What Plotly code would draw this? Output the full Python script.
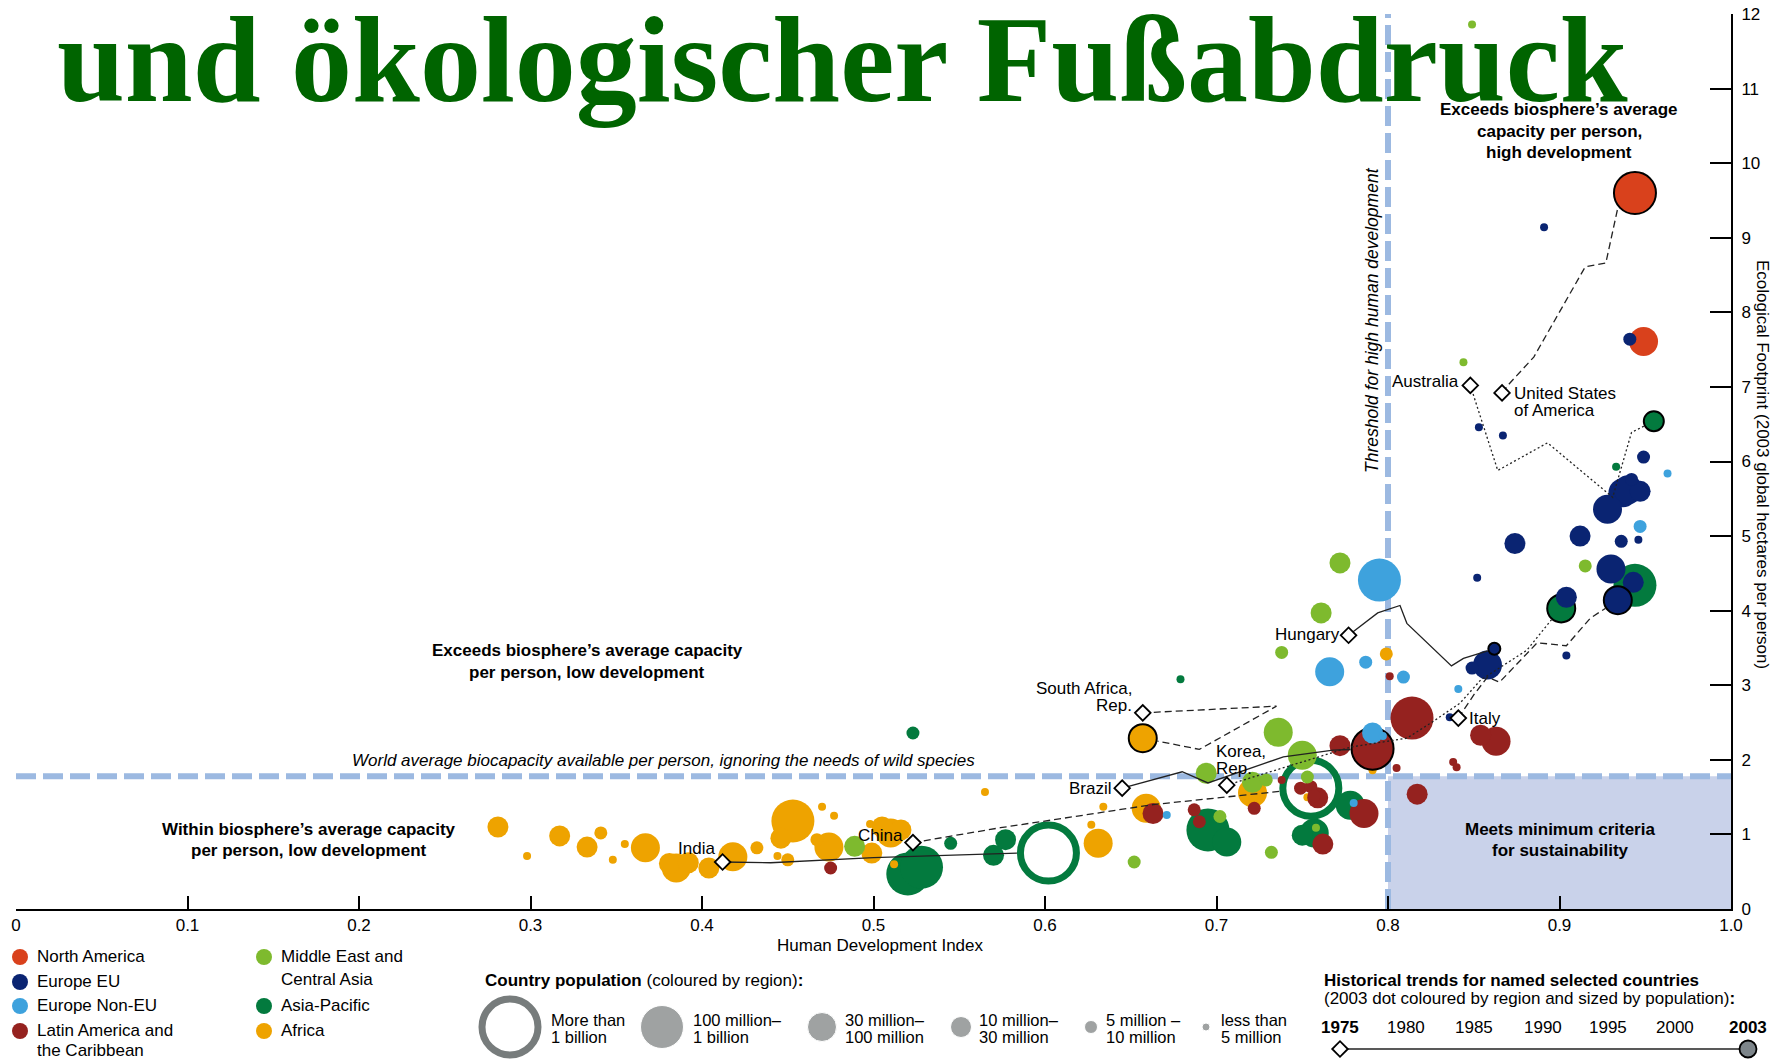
import math
import plotly.graph_objects as go

# ---------------- 2003 country data: HDI, ecological footprint (gha/person), population (millions) ----------------
NA_HDI = [0.949]
NA_EF = [7.61]
NA_POP = [31.5]

EU_HDI = [0.853, 0.867, 0.891, 0.941, 0.949, 0.937, 0.940, 0.947, 0.942, 0.928, 0.912,
          0.936, 0.946, 0.874, 0.930, 0.943, 0.852, 0.904, 0.904, 0.858, 0.849, 0.836]
EU_EF = [6.46, 6.35, 9.14, 7.64, 6.06, 5.58, 5.62, 5.60, 5.76, 5.36, 5.00,
         4.93, 4.95, 4.90, 4.56, 4.38, 4.44, 4.18, 3.40, 3.27, 3.23, 2.57]
EU_POP = [1.4, 0.8, 2.0, 5.2, 9.0, 60.0, 59.0, 10.3, 5.4, 41.0, 11.0,
          8.1, 4.0, 10.2, 82.0, 16.0, 3.4, 10.4, 2.0, 38.0, 5.4, 2.3]

NONEU_HDI = [0.671, 0.780, 0.791, 0.797, 0.795, 0.766, 0.787, 0.809, 0.841, 0.963, 0.947]
NONEU_EF = [1.26, 1.42, 2.36, 2.32, 4.41, 3.18, 3.31, 3.11, 2.95, 5.84, 5.13]
NONEU_POP = [4.3, 3.9, 21.7, 2.0, 143.0, 48.0, 9.9, 7.9, 4.4, 4.5, 7.2]

LATAM_HDI = [0.475, 0.663, 0.687, 0.690, 0.722, 0.738, 0.749, 0.755, 0.759, 0.757, 0.762,
             0.786, 0.772, 0.805, 0.814, 0.817, 0.801, 0.854, 0.863, 0.838, 0.840]
LATAM_EF = [0.55, 1.28, 1.33, 1.17, 1.35, 1.73, 1.62, 1.64, 1.49, 1.52, 0.87,
            1.28, 2.19, 1.89, 2.56, 1.54, 3.12, 2.33, 2.25, 1.97, 1.90]
LATAM_POP = [8.3, 12.3, 8.8, 6.9, 6.5, 2.6, 5.9, 8.7, 13.0, 5.5, 27.2,
             44.2, 25.7, 3.0, 103.0, 11.3, 1.3, 15.8, 38.4, 0.3, 3.4]

ME_HDI = [0.489, 0.652, 0.694, 0.702, 0.721, 0.729, 0.732, 0.736, 0.750, 0.753, 0.758,
          0.761, 0.738, 0.772, 0.915, 0.849, 0.844]
ME_EF = [0.84, 0.63, 1.82, 1.24, 1.70, 1.73, 0.76, 2.37, 2.06, 1.77, 1.09,
         3.97, 3.44, 4.64, 4.60, 11.86, 7.33]
ME_POP = [20.0, 6.2, 26.1, 5.1, 17.8, 8.4, 5.1, 67.3, 71.3, 5.4, 3.1,
          15.4, 5.0, 24.2, 6.4, 3.0, 2.5]

AP_HDI = [0.520, 0.528, 0.523, 0.545, 0.577, 0.570, 0.679, 0.695, 0.706, 0.757, 0.750,
          0.778, 0.795, 0.933, 0.944]
AP_EF = [0.47, 0.56, 2.36, 0.88, 0.93, 0.72, 3.08, 1.06, 0.90, 1.02, 0.99,
         1.39, 2.27, 5.93, 4.34]
AP_POP = [146.7, 153.6, 5.7, 5.7, 24.0, 14.1, 2.6, 219.9, 81.4, 80.0, 19.1,
          63.1, 8.0, 4.0, 127.7]

AF_HDI = [0.281, 0.298, 0.317, 0.333, 0.341, 0.348, 0.355, 0.367, 0.381, 0.385,
          0.392, 0.404, 0.418, 0.432, 0.444, 0.450, 0.453, 0.446, 0.470, 0.477,
          0.467, 0.474, 0.498, 0.499, 0.510, 0.516, 0.505, 0.512, 0.565, 0.631,
          0.627, 0.634, 0.659, 0.721, 0.753, 0.791, 0.799]
AF_EF = [1.10, 0.71, 0.98, 0.83, 1.02, 0.66, 0.87, 0.82, 0.61, 0.55,
         0.62, 0.55, 0.70, 0.82, 0.71, 0.66, 1.18, 0.95, 1.37, 1.25,
         0.93, 0.83, 1.14, 0.75, 1.02, 1.06, 1.10, 0.60, 1.57, 0.88,
         1.13, 1.37, 1.35, 1.56, 1.50, 1.86, 3.42]
AF_POP = [12.0, 4.9, 13.0, 13.0, 8.6, 1.5, 3.9, 70.7, 18.8, 53.2,
          10.8, 12.1, 37.0, 6.7, 1.4, 8.4, 124.0, 26.0, 1.1, 3.0,
          9.0, 32.0, 1.6, 17.4, 33.6, 21.0, 16.0, 0.8, 2.0, 30.1,
          2.0, 1.3, 71.9, 31.8, 3.0, 1.2, 5.6]

# ---------------- historical trends 1975 -> 2003 (last point = 2003 dot) ----------------
INDIA_HDI = [0.412, 0.44, 0.50, 0.58, 0.602]
INDIA_EF = [0.63, 0.62, 0.69, 0.75, 0.75]
CHINA_HDI = [0.523, 0.574, 0.603, 0.663, 0.737, 0.755]
CHINA_EF = [0.89, 1.09, 1.19, 1.40, 1.57, 1.62]
BRAZIL_HDI = [0.645, 0.680, 0.695, 0.739, 0.768, 0.791]
BRAZIL_EF = [1.62, 1.84, 1.69, 2.04, 2.13, 2.15]
SAFRICA_HDI = [0.657, 0.735, 0.690, 0.657]
SAFRICA_EF = [2.63, 2.72, 2.14, 2.29]
KOREA_HDI = [0.706, 0.778, 0.811, 0.826, 0.842, 0.854, 0.881, 0.895, 0.901]
KOREA_EF = [1.66, 2.17, 2.29, 2.51, 2.76, 3.07, 3.47, 3.87, 4.03]
HUNGARY_HDI = [0.777, 0.794, 0.807, 0.811, 0.837, 0.844, 0.862]
HUNGARY_EF = [3.67, 3.97, 4.07, 3.83, 3.26, 3.36, 3.49]
ITALY_HDI = [0.841, 0.850, 0.858, 0.865, 0.887, 0.904, 0.918, 0.929, 0.934]
ITALY_EF = [2.56, 2.87, 3.11, 3.04, 3.57, 3.53, 3.90, 4.05, 4.14]
AUSTRALIA_HDI = [0.848, 0.864, 0.893, 0.931, 0.942, 0.955]
AUSTRALIA_EF = [7.02, 5.88, 6.25, 5.52, 6.39, 6.54]
USA_HDI = [0.8665, 0.871, 0.885, 0.915, 0.927, 0.934, 0.944]
USA_EF = [6.92, 7.05, 7.40, 8.61, 8.66, 9.41, 9.60]

TREND_COUNTRIES = ["India", "China", "Brazil", "South Africa", "Korea", "Hungary", "Italy",
                   "Australia", "United States"]
TREND_REGION = ["Asia-Pacific", "Asia-Pacific", "Latin America and the Caribbean", "Africa",
                "Asia-Pacific", "Europe EU", "Europe EU", "Asia-Pacific", "North America"]
TREND_POP_2003 = [1065.0, 1300.0, 178.5, 45.0, 47.7, 9.9, 57.4, 19.7, 294.0]

REGIONS = ["North America", "Europe EU", "Europe Non-EU", "Latin America and the Caribbean",
           "Middle East and Central Asia", "Asia-Pacific", "Africa"]

X_TICKS = [0, 0.1, 0.2, 0.3, 0.4, 0.5, 0.6, 0.7, 0.8, 0.9, 1.0]
X_TICKTEXT = ["0", "0.1", "0.2", "0.3", "0.4", "0.5", "0.6", "0.7", "0.8", "0.9", "1.0"]
Y_TICKS = list(range(0, 13))

WORLD_BIOCAPACITY = 1.78
HIGH_HDI = 0.8

POP_LEGEND_LABELS = [("More than", "1 billion"), ("100 million–", "1 billion"),
                     ("30 million–", "100 million"), ("10 million–", "30 million"),
                     ("5 million –", "10 million"), ("less than", "5 million")]
POP_LEGEND_VALUES = [1200, 500, 60, 20, 7, 2]
YEAR_LABELS = ["1975", "1980", "1985", "1990", "1995", "2000", "2003"]

# ---------------- styles ----------------
SANS = "Liberation Sans, Arial, sans-serif"
SERIF = "Liberation Serif, Times New Roman, serif"
COLORS = {
    "North America": "#D9411C",
    "Europe EU": "#0A2472",
    "Europe Non-EU": "#3EA2DD",
    "Latin America and the Caribbean": "#95221F",
    "Middle East and Central Asia": "#7EBA2E",
    "Asia-Pacific": "#037A3E",
    "Africa": "#EEA300",
}
GREY = "#777C7C"
REF_BLUE = "#9CB9E1"
SHADE = "#C9D2EA"
RING_SIZE, RING_WIDTH = 56, 7
DIAMOND = dict(symbol="diamond", size=12, color="white", line=dict(width=1.8, color="black"))

W, H = 1775, 1059
PL, PR, PT, PB = 16, 1731, 14, 909
SX = (PR - PL) / 1.0
SY = (PB - PT) / 12.0


def diameter(pop):
    if pop >= 100:
        return 43
    if pop >= 30:
        return 29
    if pop >= 10:
        return 21
    if pop >= 5:
        return 13
    return 8


def clip_to_dot(xs, ys, r):
    cx, cy = xs[-1], ys[-1]

    def dist(p):
        return math.hypot((p[0] - cx) * SX, (p[1] - cy) * SY)

    pts = list(zip(xs[:-1], ys[:-1]))
    while len(pts) > 1 and dist(pts[-1]) <= r:
        pts.pop()
    px, py = pts[-1]
    d = dist((px, py))
    if d > r:
        t = (d - r) / d
        pts.append((px + (cx - px) * t, py + (cy - py) * t))
    return [p[0] for p in pts], [p[1] for p in pts]


region_data = {
    "North America": (NA_HDI, NA_EF, NA_POP),
    "Europe EU": (EU_HDI, EU_EF, EU_POP),
    "Europe Non-EU": (NONEU_HDI, NONEU_EF, NONEU_POP),
    "Latin America and the Caribbean": (LATAM_HDI, LATAM_EF, LATAM_POP),
    "Middle East and Central Asia": (ME_HDI, ME_EF, ME_POP),
    "Asia-Pacific": (AP_HDI, AP_EF, AP_POP),
    "Africa": (AF_HDI, AF_EF, AF_POP),
}
trend_hdi = [INDIA_HDI, CHINA_HDI, BRAZIL_HDI, SAFRICA_HDI, KOREA_HDI, HUNGARY_HDI, ITALY_HDI,
             AUSTRALIA_HDI, USA_HDI]
trend_ef = [INDIA_EF, CHINA_EF, BRAZIL_EF, SAFRICA_EF, KOREA_EF, HUNGARY_EF, ITALY_EF,
            AUSTRALIA_EF, USA_EF]
DASH = {"solid": "solid", "dash": "7px,4px", "dot": "2px,2.5px"}
TREND_STYLE = {"India": "solid", "China": "dash", "Brazil": "solid", "South Africa": "dash",
               "Korea": "dot", "Hungary": "solid", "Italy": "dash", "Australia": "dot",
               "United States": "dash"}

fig = go.Figure()

draw_order = ["North America", "Asia-Pacific", "Africa", "Latin America and the Caribbean",
              "Middle East and Central Asia", "Europe Non-EU", "Europe EU"]
dot_radius = {}
for reg in draw_order:
    hx, ey, pp = region_data[reg]
    idx = sorted(range(len(hx)), key=lambda i: -diameter(pp[i]))
    fig.add_trace(go.Scatter(
        x=[hx[i] for i in idx], y=[ey[i] for i in idx], mode="markers",
        marker=dict(size=[diameter(pp[i]) for i in idx], color=COLORS[reg], opacity=1,
                    line=dict(width=0)),
        hoverinfo="skip", showlegend=False, xaxis="x", yaxis="y"))
    # 2003 dots of the named countries in this region
    for k, c in enumerate(TREND_COUNTRIES):
        if TREND_REGION[k] != reg:
            continue
        x2003, y2003 = trend_hdi[k][-1], trend_ef[k][-1]
        if TREND_POP_2003[k] >= 1000:
            fig.add_trace(go.Scatter(
                x=[x2003], y=[y2003], mode="markers",
                marker=dict(size=RING_SIZE, color="rgba(255,255,255,0)",
                            line=dict(width=RING_WIDTH, color=COLORS[reg])),
                hoverinfo="skip", showlegend=False))
            dot_radius[c] = (RING_SIZE + RING_WIDTH) / 2.0
        else:
            d = diameter(TREND_POP_2003[k]) - 1
            fig.add_trace(go.Scatter(
                x=[x2003], y=[y2003], mode="markers",
                marker=dict(size=d, color=COLORS[reg], line=dict(width=2, color="black")),
                hoverinfo="skip", showlegend=False))
            dot_radius[c] = d / 2.0 + 1

# trend lines
for k, c in enumerate(TREND_COUNTRIES):
    lx, ly = clip_to_dot(trend_hdi[k], trend_ef[k], dot_radius[c])
    fig.add_trace(go.Scatter(
        x=lx, y=ly, mode="lines",
        line=dict(color="#222222", width=1.3, dash=DASH[TREND_STYLE[c]]),
        hoverinfo="skip", showlegend=False))

# 1975 diamonds
fig.add_trace(go.Scatter(
    x=[h[0] for h in trend_hdi], y=[e[0] for e in trend_ef], mode="markers",
    marker=DIAMOND, hoverinfo="skip", showlegend=False))

# ---------------- legend marks (pixel axes x2/y2) ----------------
REG_LEG_POS = [(20, 957), (20, 982), (20, 1006), (20, 1031), (264, 957), (264, 1006), (264, 1031)]
fig.add_trace(go.Scatter(
    x=[p[0] for p in REG_LEG_POS], y=[p[1] for p in REG_LEG_POS], mode="markers",
    marker=dict(size=16, color=[COLORS[r] for r in REGIONS]),
    xaxis="x2", yaxis="y2", hoverinfo="skip", showlegend=False))

POP_LEG_X = [510, 662, 822, 961, 1091, 1206]
POP_LEG_Y = 1027
fig.add_trace(go.Scatter(
    x=[POP_LEG_X[0]], y=[POP_LEG_Y], mode="markers",
    marker=dict(size=RING_SIZE, color="rgba(255,255,255,0)", line=dict(width=RING_WIDTH, color=GREY)),
    xaxis="x2", yaxis="y2", hoverinfo="skip", showlegend=False))
fig.add_trace(go.Scatter(
    x=POP_LEG_X[1:], y=[POP_LEG_Y] * 5, mode="markers",
    marker=dict(size=[diameter(v) for v in POP_LEGEND_VALUES[1:]], color=GREY),
    xaxis="x2", yaxis="y2", hoverinfo="skip", showlegend=False))

YEAR_X = [1340, 1406, 1474, 1543, 1608, 1675, 1748]
fig.add_trace(go.Scatter(
    x=[YEAR_X[0], YEAR_X[-1]], y=[1049, 1049], mode="lines",
    line=dict(color="#222222", width=1.3),
    xaxis="x2", yaxis="y2", hoverinfo="skip", showlegend=False))
fig.add_trace(go.Scatter(
    x=[YEAR_X[-1]], y=[1049], mode="markers",
    marker=dict(size=17, color="#7D858A", line=dict(width=1.8, color="black")),
    xaxis="x2", yaxis="y2", hoverinfo="skip", showlegend=False))
fig.add_trace(go.Scatter(
    x=[YEAR_X[0]], y=[1049], mode="markers", marker=DIAMOND,
    xaxis="x2", yaxis="y2", hoverinfo="skip", showlegend=False))

# ---------------- shapes ----------------
shapes = [
    dict(type="rect", xref="x", yref="y", x0=HIGH_HDI, x1=1.0, y0=0, y1=WORLD_BIOCAPACITY,
         fillcolor=SHADE, line=dict(width=0), layer="below"),
    dict(type="line", xref="x", yref="y", x0=0, x1=1.0, y0=WORLD_BIOCAPACITY, y1=WORLD_BIOCAPACITY,
         line=dict(color=REF_BLUE, width=6, dash="20px,7px"), layer="below"),
    dict(type="line", xref="x", yref="y", x0=HIGH_HDI, x1=HIGH_HDI, y0=0, y1=12,
         line=dict(color=REF_BLUE, width=6, dash="20px,7px"), layer="below"),
]

# ---------------- annotations ----------------
ann = []


def txt(x, y, s, size=17, xanchor="center", angle=0, family=SANS, color="black"):
    ann.append(dict(x=x, y=y, xref="x2", yref="y2", text=s, showarrow=False, xanchor=xanchor,
                    yanchor="middle", textangle=angle, font=dict(family=family, size=size, color=color)))


def label(k, s, xanchor, xshift, yshift):
    ann.append(dict(x=trend_hdi[k][0], y=trend_ef[k][0], xref="x", yref="y", text=s, showarrow=False,
                    xanchor=xanchor, yanchor="middle", xshift=xshift, yshift=yshift,
                    font=dict(family=SANS, size=17, color="black")))


txt(55, 60, "<b>und ökologischer Fußabdruck</b>", size=122, xanchor="left", family=SERIF, color="#006400")

txt(587, 650, "<b>Exceeds biosphere’s average capacity</b>")
txt(587, 672, "<b>per person, low development</b>")
txt(663, 760, "<i>World average biocapacity available per person, ignoring the needs of wild species</i>", size=17)
txt(309, 829, "<b>Within biosphere’s average capacity</b>")
txt(309, 850, "<b>per person, low development</b>")
txt(1559, 109, "<b>Exceeds biosphere’s average</b>")
txt(1559, 131, "<b>capacity per person,</b>")
txt(1559, 152, "<b>high development</b>")
txt(1560, 829, "<b>Meets minimum criteria</b>")
txt(1560, 850, "<b>for sustainability</b>")
txt(1372, 320, "<i>Threshold for high human development</i>", size=17.5, angle=-90)
txt(880, 945, "Human Development Index")
txt(1763, 464, "Ecological Footprint (2003 global hectares per person)", angle=90)

label(0, "India", "right", -6, 14)
label(1, "China", "right", -8, 7)
label(2, "Brazil", "right", -8, 0)
label(3, "South Africa,", "right", -9, 24)
label(3, "Rep.", "right", -9, 7)
label(4, "Korea,", "left", -13, 34)
label(4, "Rep.", "left", -13, 17)
label(5, "Hungary", "right", -7, 1)
label(6, "Italy", "left", 9, 0)
label(7, "Australia", "right", -9, 4)
label(8, "United States", "left", 10, -1)
label(8, "of America", "left", 10, -18)

# region legend text
txt(35, 956, "North America", xanchor="left")
txt(35, 981, "Europe EU", xanchor="left")
txt(35, 1005, "Europe Non-EU", xanchor="left")
txt(35, 1030, "Latin America and", xanchor="left")
txt(35, 1050, "the Caribbean", xanchor="left")
txt(279, 956, "Middle East and", xanchor="left")
txt(279, 979, "Central Asia", xanchor="left")
txt(279, 1005, "Asia-Pacific", xanchor="left")
txt(279, 1030, "Africa", xanchor="left")

# population legend text
txt(483, 980, "<b>Country population</b> (coloured by region)<b>:</b>", xanchor="left")
POP_TEXT_X = [549, 691, 843, 977, 1104, 1219]
for (l1, l2), tx in zip(POP_LEGEND_LABELS, POP_TEXT_X):
    txt(tx, 1020, l1, size=16.5, xanchor="left")
    txt(tx, 1037, l2, size=16.5, xanchor="left")

# historical trends legend text
txt(1322, 980, "<b>Historical trends for named selected countries</b>", xanchor="left")
txt(1322, 998, "(2003 dot coloured by region and sized by population)<b>:</b>", xanchor="left")
for i, (yl, yx) in enumerate(zip(YEAR_LABELS, YEAR_X)):
    s = "<b>%s</b>" % yl if i in (0, len(YEAR_LABELS) - 1) else yl
    txt(yx, 1027, s)

fig.update_layout(
    width=W, height=H,
    margin=dict(l=0, r=0, t=0, b=0, pad=0),
    paper_bgcolor="white", plot_bgcolor="rgba(0,0,0,0)",
    showlegend=False,
    xaxis=dict(domain=[PL / W, PR / W], range=[0, 1.0], showline=True, linecolor="black", linewidth=2,
               ticks="inside", ticklen=13, tickwidth=1.5, tickcolor="black",
               tickmode="array", tickvals=X_TICKS, ticktext=X_TICKTEXT,
               tickfont=dict(family=SANS, size=17, color="black"),
               showgrid=False, zeroline=False, automargin=False, anchor="y"),
    yaxis=dict(domain=[(H - PB) / H, (H - PT) / H], range=[0, 12], side="right", showline=True,
               linecolor="black", linewidth=2, ticks="inside", ticklen=21, tickwidth=1.5,
               tickcolor="black", tickmode="array", tickvals=Y_TICKS, ticklabelstandoff=5,
               tickfont=dict(family=SANS, size=17, color="black"),
               showgrid=False, zeroline=False, automargin=False, anchor="x"),
    xaxis2=dict(domain=[0, 1], range=[0, W], visible=False, anchor="y2"),
    yaxis2=dict(domain=[0, 1], range=[H, 0], visible=False, anchor="x2"),
    shapes=shapes,
    annotations=ann,
)

fig.write_html("out.html", config={"displayModeBar": False},
               post_script="document.body.style.margin='0';document.body.style.overflow='hidden';")
